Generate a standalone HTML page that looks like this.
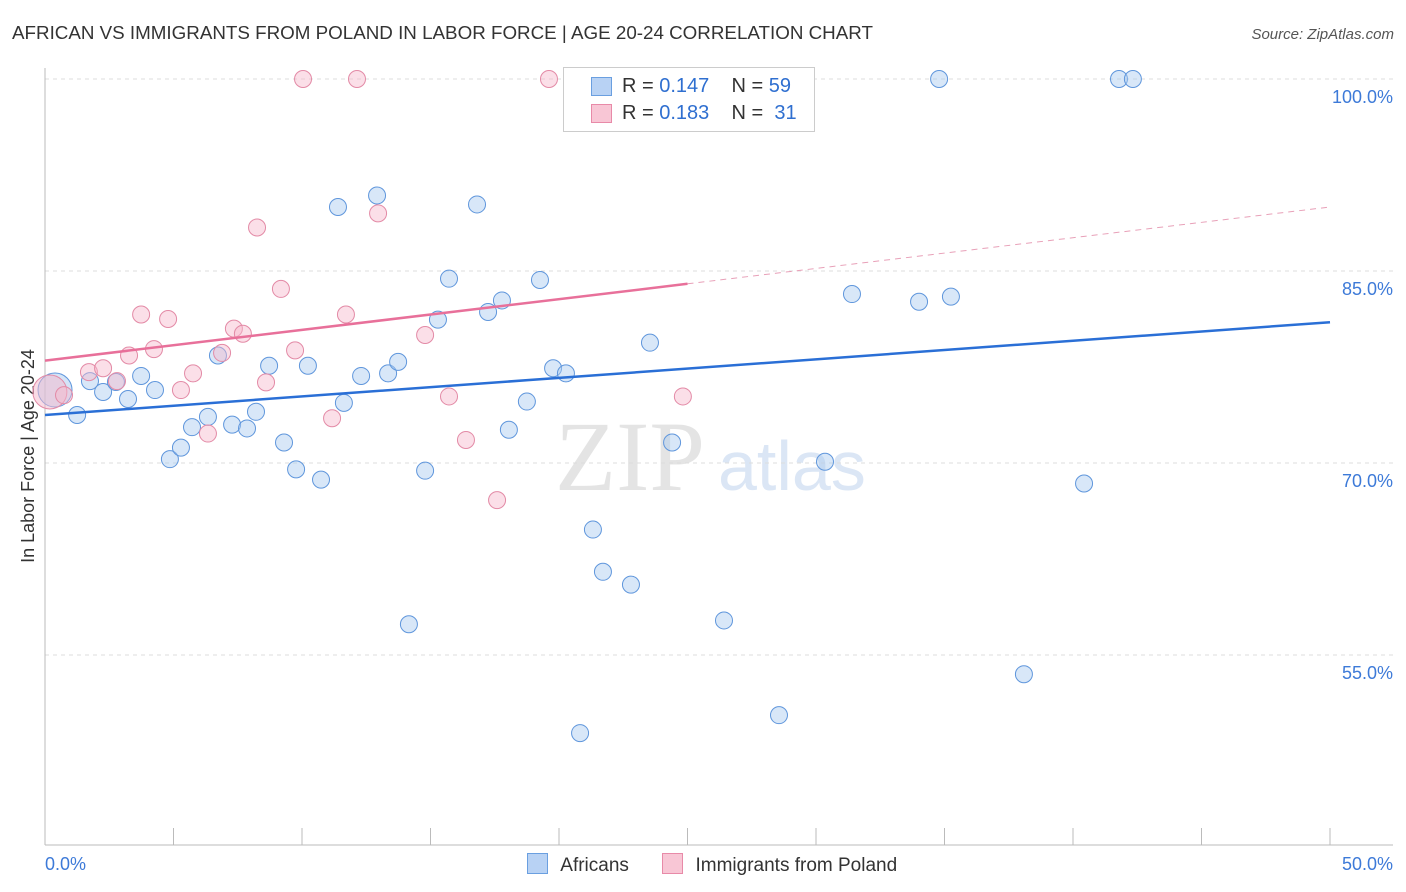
<!DOCTYPE html>
<html><head><meta charset="utf-8">
<style>
body{margin:0;background:#fff;font-family:"Liberation Sans",sans-serif;}
#wrap{position:relative;width:1406px;height:892px;overflow:hidden;}
</style></head>
<body>
<div id="wrap">
<svg id="svg" width="1406" height="892">
<text x="12" y="39" font-size="18.8" fill="#333">AFRICAN VS IMMIGRANTS FROM POLAND IN LABOR FORCE | AGE 20-24 CORRELATION CHART</text>
<text x="1394" y="39" font-size="15" fill="#555" text-anchor="end" font-style="italic">Source: ZipAtlas.com</text>
<text x="555" y="490" font-size="100" fill="#e4e4e4" font-family="Liberation Serif,serif">ZIP</text>
<text x="718" y="490" font-size="70" fill="#dbe6f5">atlas</text>
<text transform="translate(34,456) rotate(-90)" font-size="18" fill="#333" text-anchor="middle">In Labor Force | Age 20-24</text>
<g id="grid"></g><g id="marks"></g>
</svg>
<div style="position:absolute;left:563px;top:67px;width:250px;height:63px;border:1px solid #ccc;background:#fff;font-size:20px;color:#333">
<div style="position:absolute;left:27px;top:9px;width:19px;height:17px;background:#b8d2f4;border:1px solid #6a9fe0"></div>
<div style="position:absolute;left:58px;top:7px">R = <span style="color:#2f6fd0">0.147</span>&nbsp;&nbsp;&nbsp; N = <span style="color:#2f6fd0">59</span></div>
<div style="position:absolute;left:27px;top:36px;width:19px;height:17px;background:#f8c6d5;border:1px solid #e88aa8"></div>
<div style="position:absolute;left:58px;top:34px">R = <span style="color:#2f6fd0">0.183</span>&nbsp;&nbsp;&nbsp; N = &nbsp;<span style="color:#2f6fd0">31</span></div>
</div>
<div style="position:absolute;left:527px;top:853px;font-size:19px;color:#333">
<span style="display:inline-block;width:19px;height:19px;background:#b8d2f4;border:1px solid #6a9fe0;vertical-align:-3px"></span>
<span style="margin-left:7px">Africans</span>
<span style="display:inline-block;width:19px;height:19px;background:#f8c6d5;border:1px solid #e88aa8;vertical-align:-3px;margin-left:28px"></span>
<span style="margin-left:7px">Immigrants from Poland</span>
</div>
</div>
<script>
const yTicks=[100,85,70,55];
const yTickLabels=["100.0%","85.0%","70.0%","55.0%"];
const xTickLabels=["0.0%","50.0%"];
const africansX=[0.39,1.25,1.75,2.26,2.76,3.23,3.74,4.28,4.86,5.29,5.72,6.34,6.73,7.28,7.86,8.21,8.72,9.30,9.77,10.23,10.74,11.40,11.63,12.30,12.92,13.35,13.74,14.16,14.79,15.29,15.72,16.81,17.24,17.78,18.05,18.75,19.26,19.77,20.27,20.82,21.32,21.71,22.80,23.54,24.40,26.42,28.56,30.35,31.40,34.01,34.79,35.25,38.09,40.43,41.79,42.33,22.2];
const africansY=[75.7,73.75,76.4,75.55,76.33,75.0,76.8,75.7,70.3,71.2,72.8,73.6,78.4,73.0,72.7,74.0,77.6,71.6,69.5,77.6,68.7,90.0,74.7,76.8,90.9,77.0,77.9,57.4,69.4,81.2,84.4,90.2,81.8,82.7,72.6,74.8,84.3,77.4,77.0,48.9,64.8,61.5,60.5,79.4,71.6,57.7,50.3,70.1,83.2,82.6,100,83.0,53.5,68.4,100,100,100];
const polandX=[0.19,0.74,1.71,2.26,2.80,3.27,3.74,4.24,4.79,5.29,5.76,6.34,6.89,7.35,7.70,8.25,8.60,9.18,9.73,10.04,11.17,11.71,12.14,12.96,14.79,15.72,16.38,17.59,19.61,24.82,25.1];
const polandY=[75.55,75.3,77.1,77.4,76.4,78.4,81.6,78.9,81.25,75.7,77.0,72.3,78.6,80.5,80.1,88.4,76.3,83.6,78.8,100,73.5,81.6,100,89.5,80.0,75.2,71.8,67.1,100,75.2,100];
const africansTrend=[73.75,81.0];
const polandTrend=[78.0,90.0];
const polandSolidEnd=25;
const X=v=>45+v*25.7, Y=v=>79+(100-v)*12.8;
const NS="http://www.w3.org/2000/svg";
function mk(tag,attrs,parent){const e=document.createElementNS(NS,tag);for(const k in attrs)e.setAttribute(k,attrs[k]);parent.appendChild(e);return e;}
const g=document.getElementById('grid'),m=document.getElementById('marks');
yTicks.forEach((t,i)=>{
 const l=mk('line',{x1:45,x2:1393,y1:Y(t),y2:Y(t),stroke:'#ddd','stroke-dasharray':'4,4'},g);
 
 
 const tx=mk('text',{x:1393,y:Y(t)+24,'font-size':18,fill:'#3d7ad8','text-anchor':'end'},g);
 tx.textContent=yTickLabels[i];
 
 
});
const ax=mk('line',{x1:45,x2:45,y1:68,y2:845,stroke:'#bbb'},g);


const bx=mk('line',{x1:45,x2:1393,y1:845,y2:845,stroke:'#bbb'},g);


for(let i=0;i<=10;i++){
 const t=mk('line',{x1:X(i*5),x2:X(i*5),y1:828,y2:845,stroke:'#bbb'},g);
 
 
}
[[0,'start',45],[50,'end',1393]].forEach((d,i)=>{
 const tx=mk('text',{x:d[2],y:870,'font-size':18,fill:'#3d7ad8','text-anchor':d[1]},g);
 tx.textContent=xTickLabels[i];
 
 
});
function dots(xs,ys,fill,stroke,name){
 xs.forEach((x,i)=>{
  const big=i===0;
  const c=mk('circle',{cx:X(x),cy:Y(ys[i]),r:big?17:8.5,fill:fill,'fill-opacity':big?0.5:0.45,stroke:stroke,'stroke-width':1},m);
  
  
 });
}
dots(africansX,africansY,'#a9c9f0','#5f96dc','african-point');
dots(polandX,polandY,'#f6b8cb','#e38aa6','poland-point');
const bt=mk('line',{x1:X(0),y1:Y(africansTrend[0]),x2:X(50),y2:Y(africansTrend[1]),stroke:'#2a6fd6','stroke-width':2.5},m);


const pe=polandTrend[0]+(polandTrend[1]-polandTrend[0])*polandSolidEnd/50;
const pt=mk('line',{x1:X(0),y1:Y(polandTrend[0]),x2:X(polandSolidEnd),y2:Y(pe),stroke:'#e8709a','stroke-width':2.5},m);


const pd=mk('line',{x1:X(polandSolidEnd),y1:Y(pe),x2:X(50),y2:Y(polandTrend[1]),stroke:'#e8a0b8','stroke-width':1,'stroke-dasharray':'6,5'},m);


</script>
</body></html>
